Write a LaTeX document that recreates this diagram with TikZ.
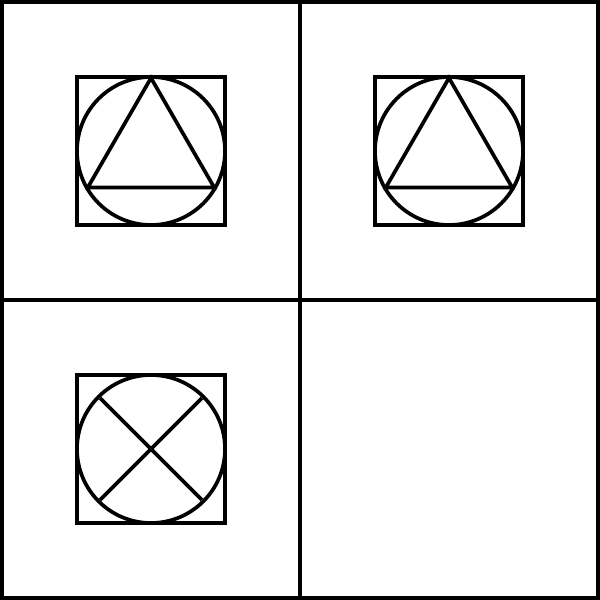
\documentclass[tikz,border=0pt]{standalone}
\usepackage{tikz}

\tikzset{frame/.style={line width=1.05pt}}

\begin{document}
\begin{tikzpicture}[frame]
        \useasboundingbox (0,0) rectangle (6,6);
        % grid
        \draw (0.02,0.02) rectangle (5.98,5.98);
        \draw (3,0) -- (3,6);
        \draw (0,3) -- (6,3);
        % boxes with circles
        \foreach \c in {(1.51,4.49),(4.49,4.49),(1.51,1.51)} {
            \draw \c ++(-0.74,-0.74) rectangle ++(1.48,1.48);
            \draw \c circle (0.74);
        }
        % triangles
        \foreach \c in {(1.51,4.49),(4.49,4.49)} {
            \draw \c ++(90:0.73) -- ++(240:1.264) -- ++(0:1.264) -- cycle;
        }
        % cross
        \draw (1.51,1.51) ++(135:0.72) -- ++(315:1.44);
        \draw (1.51,1.51) ++(45:0.72) -- ++(225:1.44);
    \end{tikzpicture}
\end{document}
